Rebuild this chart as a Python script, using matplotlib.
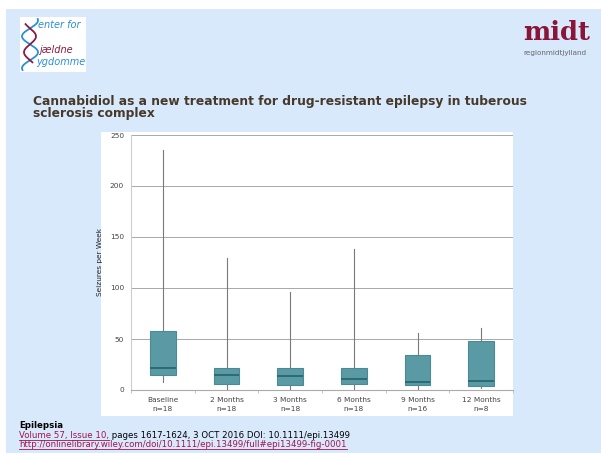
import matplotlib
matplotlib.use("Agg")
import matplotlib.pyplot as plt
from matplotlib.patches import Rectangle
import numpy as np

categories = ["Baseline", "2 Months", "3 Months", "6 Months", "9 Months", "12 Months"]
n_labels = ["n=18", "n=18", "n=18", "n=18", "n=16", "n=8"]
whisker_low = [7.8, 0, 0, 0, 0, 2.3]
q1 = [15.0, 5.9, 5.2, 5.9, 5.2, 3.6]
median = [21.9, 15.0, 13.4, 10.4, 7.8, 8.5]
q3 = [57.4, 22.0, 22.0, 21.2, 34.6, 47.6]
whisker_high = [235, 129, 95.6, 138, 55.8, 60.7]
y_ticks = [0, 50, 100, 150, 200, 250]

W, H = 601, 453
fig = plt.figure(figsize=(W / 100, H / 100), dpi=100)
fig.patch.set_facecolor("white")

def fx(x):
    return x / W

def fy(y):
    return 1 - y / H

bg = "#d9e9fc"
fig.patches.append(Rectangle((fx(6), 0), 1 - fx(6), fy(9), transform=fig.transFigure,
                             facecolor=bg, edgecolor="none", zorder=0))
# chart white box
fig.patches.append(Rectangle((fx(101), fy(416)), fx(412), 284 / H, transform=fig.transFigure,
                             facecolor="white", edgecolor="none", zorder=0.5))

# left logo: curves + text
lax = fig.add_axes([fx(20), fy(72), fx(66), 55 / H])
lax.set_zorder(2)
lax.set_facecolor("white")
lax.set_xlim(0, 66)
lax.set_ylim(55, 0)
lax.set_xticks([])
lax.set_yticks([])
for s in lax.spines.values():
    s.set_visible(False)
t = np.linspace(0, 1, 200)
yy = 2 + 51 * t
xx_blue = 10 + 8 * np.sin(2 * np.pi * t * 1.6 + 1.3)
xx_red = 10 + 6 * np.sin(2 * np.pi * t * 1.6 + 1.3 + np.pi)
lax.plot(xx_blue, yy, color="#2a8fd6", lw=1.3)
lax.plot(xx_red[20:170], yy[20:170], color="#8b1a3f", lw=1.3)
lax.text(18, 8, "enter for", fontsize=7.0, color="#2a8fd6", style="italic", va="center",
         family="DejaVu Sans")
lax.text(19, 33, "jældne", fontsize=7.0, color="#8b1a3f", style="italic", va="center",
         family="DejaVu Sans")
lax.text(16, 45, "ygdomme", fontsize=7.0, color="#2a8fd6", style="italic", va="center",
         family="DejaVu Sans")

r = fig.canvas.get_renderer()

# right logo
fig.text(fx(523), fy(40), "midt", fontsize=18.5, fontweight="bold", color="#8b1538",
         ha="left", va="baseline", family="DejaVu Serif")
fig.text(fx(523), fy(55.5), "regionmidtjylland", fontsize=5.2, color="#666666",
         ha="left", va="baseline")

# title
fig.text(fx(33), fy(105), "Cannabidiol as a new treatment for drug-resistant epilepsy in tuberous",
         fontsize=8.85, fontweight="bold", color="#46392a", va="baseline")
fig.text(fx(33), fy(117), "sclerosis complex",
         fontsize=8.85, fontweight="bold", color="#46392a", va="baseline")

# footer
fig.text(fx(19), fy(428), "Epilepsia", fontsize=6.2, fontweight="bold", color="black",
         va="baseline")
t1 = fig.text(fx(19), fy(438), "Volume 57, Issue 10,", fontsize=6.2, color="#a0144a",
              va="baseline")
bb = t1.get_window_extent(renderer=r)
fig.text(bb.x1 / W, fy(438),
         " pages 1617-1624, 3 OCT 2016 DOI: 10.1111/epi.13499", fontsize=6.2, color="black",
         va="baseline")
fig.add_artist(plt.Line2D([fx(19), bb.x1 / W], [fy(439.5), fy(439.5)], color="#a0144a", lw=0.6))
t2 = fig.text(fx(19), fy(447), "http://onlinelibrary.wiley.com/doi/10.1111/epi.13499/full#epi13499-fig-0001",
              fontsize=6.2, color="#a0144a", va="baseline")
bb2 = t2.get_window_extent(renderer=r)
fig.add_artist(plt.Line2D([fx(19), bb2.x1 / W], [fy(448.5), fy(448.5)], color="#a0144a", lw=0.6))

# chart
ax = fig.add_axes([fx(131), fy(390), fx(382), 255 / H])
ax.set_zorder(2)
ax.set_facecolor("white")
stats = []
for i in range(len(categories)):
    stats.append(dict(med=median[i], q1=q1[i], q3=q3[i], whislo=whisker_low[i],
                      whishi=whisker_high[i], fliers=[], label=categories[i] + "\n" + n_labels[i]))
ax.bxp(stats, positions=np.arange(len(categories)), widths=0.4, showcaps=False,
       patch_artist=True, manage_ticks=False,
       boxprops=dict(facecolor="#5a9aa4", edgecolor="#4a8a95", linewidth=0.8),
       medianprops=dict(color="#2b6670", linewidth=1.3),
       whiskerprops=dict(color="#7a7a7a", linewidth=0.8), zorder=3)
ax.set_xlim(-0.5, len(categories) - 0.5)
ax.set_ylim(0, 250)
ax.set_yticks(y_ticks)
ax.set_yticklabels([str(v) for v in y_ticks], fontsize=5.3, color="#444444")
ax.set_xticks(np.arange(len(categories)))
ax.set_xticklabels([c + "\n" + n for c, n in zip(categories, n_labels)], fontsize=5.3,
                   color="#444444", linespacing=1.7)
ax.tick_params(axis="x", length=0, pad=5)
ax.tick_params(axis="y", length=0, pad=5)
ax.set_xticks(np.arange(len(categories) + 1) - 0.5, minor=True)
ax.tick_params(axis="x", which="minor", length=2.5, color="#bbbbbb", direction="out")
ax.yaxis.grid(True, color="#a8a8a8", linewidth=0.7)
ax.set_axisbelow(True)
for s in ["top", "right"]:
    ax.spines[s].set_visible(False)
ax.spines["left"].set_color("#cccccc")
ax.spines["bottom"].set_color("#aaaaaa")
ax.set_ylabel("Seizures per Week", fontsize=5.3, color="#222222", labelpad=5)

fig.savefig("out.png", dpi=100, facecolor=fig.get_facecolor())
